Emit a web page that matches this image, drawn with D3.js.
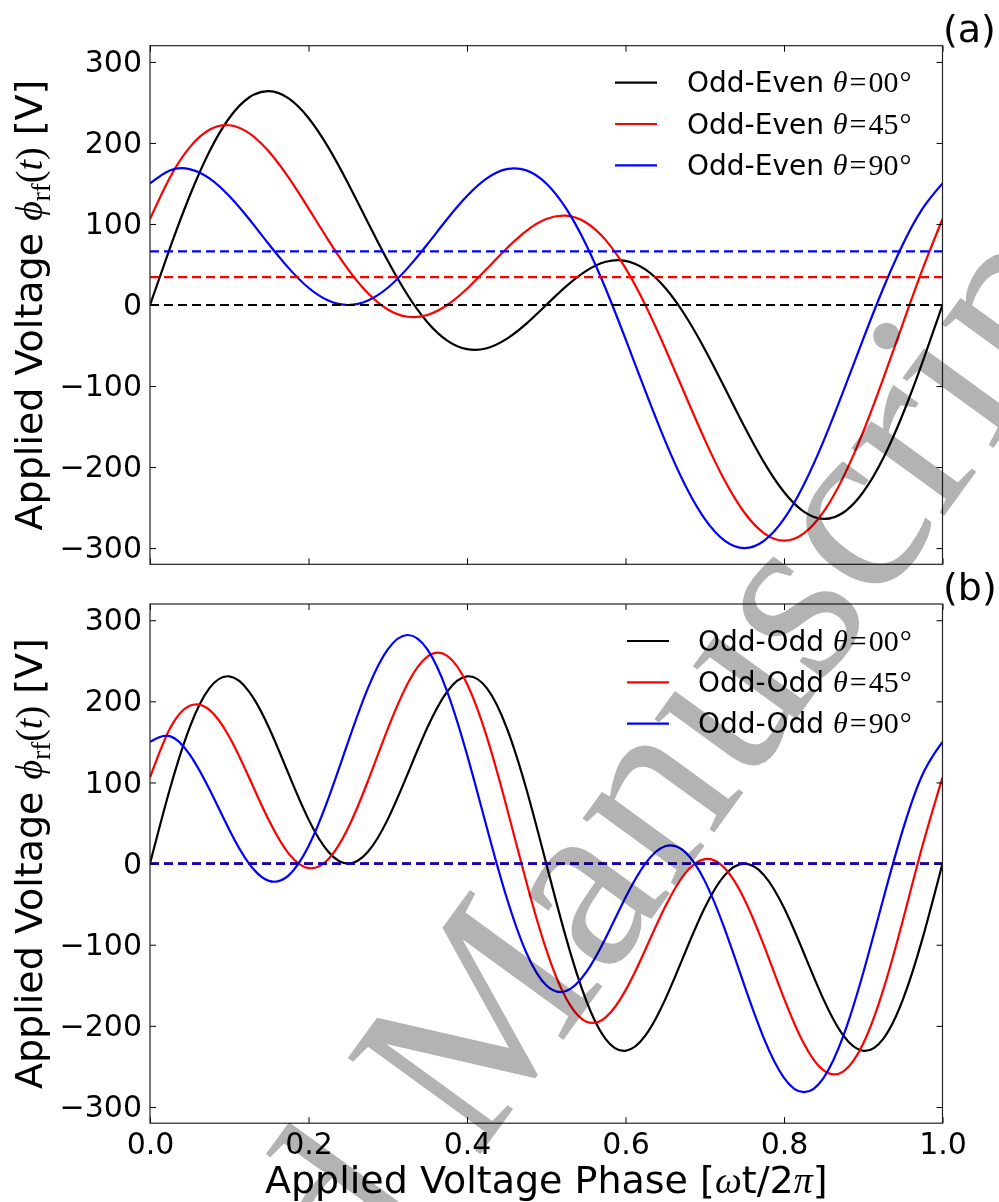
<!DOCTYPE html>
<html>
<head>
<meta charset="utf-8">
<script src="https://cdn.jsdelivr.net/npm/d3@7"></script>
<style>
  html, body { margin: 0; padding: 0; background: #ffffff; }
  svg { display: block; }
</style>
</head>
<body>
<svg id="chart" width="999" height="1202"></svg>
<script>
// ---------------- data ----------------
const phase = [0,0.025,0.05,0.075,0.1,0.125,0.15,0.175,0.2,0.225,0.25,0.275,0.3,0.325,0.35,0.375,0.4,0.425,0.45,0.475,0.5,0.525,0.55,0.575,0.6,0.625,0.65,0.675,0.7,0.725,0.75,0.775,0.8,0.825,0.85,0.875,0.9,0.925,0.95,0.975,1];

const oddEven00 = [0,69.8,134.5,189.5,230.8,256.1,264.0,255.0,230.8,194.5,150,101.8,54.5,12.3,-21.3,-43.9,-54.5,-53.3,-41.8,-22.9,0,22.9,41.8,53.3,54.5,43.9,21.3,-12.3,-54.5,-101.8,-150,-194.5,-230.8,-255.0,-264.0,-256.1,-230.8,-189.5,-134.5,-69.8,0];
const oddEven45 = [106.1,157.1,194.5,216.3,221.8,212.1,189.5,157.1,119.2,80.1,43.9,14.5,-5.5,-14.5,-12.3,0,20.1,44.6,69.8,91.6,106.1,110.2,101.8,80.1,45.5,0,-53.3,-110.2,-166.1,-216.3,-256.1,-281.8,-290.8,-281.8,-255.0,-212.1,-156.3,-91.6,-22.9,44.6,106.1];
const oddEven90 = [150,166.1,167.7,156.3,134.5,106.1,75,45.5,21.3,5.5,0,5.5,21.3,45.5,75,106.1,134.5,156.3,167.7,166.1,150,119.2,75,20.1,-41.8,-106.1,-167.7,-221.8,-264.0,-290.8,-300,-290.8,-264.0,-221.8,-167.7,-106.1,-41.8,20.1,75,119.2,150];

const oddOdd00 = [0,91.6,167.7,216.3,230.8,212.1,167.7,110.2,54.5,14.5,0,14.5,54.5,110.2,167.7,212.1,230.8,216.3,167.7,91.6,0,-91.6,-167.7,-216.3,-230.8,-212.1,-167.7,-110.2,-54.5,-14.5,0,-14.5,-54.5,-110.2,-167.7,-212.1,-230.8,-216.3,-167.7,-91.6,0];
const oddOdd45 = [106.1,166.1,194.5,189.5,156.3,106.1,53.3,12.3,-5.5,5.5,43.9,101.8,166.1,221.8,255.0,256.1,221.8,156.3,69.8,-22.9,-106.1,-166.1,-194.5,-189.5,-156.3,-106.1,-53.3,-12.3,5.5,-5.5,-43.9,-101.8,-166.1,-221.8,-255.0,-256.1,-221.8,-156.3,-69.8,22.9,106.1];
const oddOdd90 = [150,157.1,134.5,91.6,41.8,0,-21.3,-14.5,21.3,80.1,150,216.3,264.0,281.8,264.0,212.1,134.5,44.6,-41.8,-110.2,-150,-157.1,-134.5,-91.6,-41.8,0,21.3,14.5,-21.3,-80.1,-150,-216.3,-264.0,-281.8,-264.0,-212.1,-134.5,-44.6,41.8,110.2,150];

const biasOddEven = [0, 34.5, 66.1];   // dashed reference lines, panel (a)
const biasOddOdd  = [0, 0, 0];         // dashed reference lines, panel (b)

const thetaLabels = ["00", "45", "90"];
const seriesColors = ["#000000", "#ff0000", "#0000ff"];
const yTicks = [-300, -200, -100, 0, 100, 200, 300];
const xTicks = [0, 0.2, 0.4, 0.6, 0.8, 1.0];
const xTickLabels = ["0.0", "0.2", "0.4", "0.6", "0.8", "1.0"];
const yDomain = [-320, 320];
const xDomain = [0, 1];

// ---------------- drawing ----------------
const svg = d3.select("#chart");
const SANS = "DejaVu Sans";
const SERIF = "Liberation Serif, DejaVu Serif, serif";

const x = d3.scaleLinear().domain(xDomain).range([150, 942.5]);

const panels = [
  { top: 45.7, bottom: 564.3, series: [oddEven00, oddEven45, oddEven90], bias: biasOddEven,
    name: "Odd-Even", tag: "(a)", tagY: 42, legX: 615, legTextX: 687, legY: 82.7, showX: false },
  { top: 604, bottom: 1123.2, series: [oddOdd00, oddOdd45, oddOdd90], bias: biasOddOdd,
    name: "Odd-Odd", tag: "(b)", tagY: 600, legX: 627, legTextX: 698, legY: 641, showX: true }
];

panels.forEach((p, pi) => {
  const y = d3.scaleLinear().domain(yDomain).range([p.bottom, p.top]);
  const g = svg.append("g");

  const clipId = "clip" + pi;
  svg.append("clipPath").attr("id", clipId).append("rect")
    .attr("x", x.range()[0]).attr("y", p.top)
    .attr("width", x.range()[1] - x.range()[0]).attr("height", p.bottom - p.top);

  const plot = g.append("g").attr("clip-path", `url(#${clipId})`);
  const line = d3.line().x((d, i) => x(phase[i])).y(d => y(d)).curve(d3.curveNatural);

  p.series.forEach((s, si) => {
    plot.append("path").datum(s)
      .attr("d", line)
      .attr("fill", "none")
      .attr("stroke", seriesColors[si])
      .attr("stroke-width", 2.2)
      .attr("stroke-linejoin", "round");
  });
  [1, 0, 2].forEach(si => {
    plot.append("line")
      .attr("x1", x(xDomain[0])).attr("x2", x(xDomain[1]))
      .attr("y1", y(p.bias[si])).attr("y2", y(p.bias[si]))
      .attr("stroke", seriesColors[si])
      .attr("stroke-width", 2.2)
      .attr("stroke-dasharray", "9,5");
  });

  // axes (ticks inward on all four sides)
  const left = d3.axisLeft(y).tickValues(yTicks).tickSizeInner(-6).tickSizeOuter(0).tickPadding(8);
  const right = d3.axisRight(y).tickValues(yTicks).tickSizeInner(-6).tickSizeOuter(0).tickFormat("");
  const top = d3.axisTop(x).tickValues(xTicks).tickSizeInner(-6).tickSizeOuter(0).tickFormat("");
  const bottom = d3.axisBottom(x).tickValues(xTicks).tickSizeInner(-6).tickSizeOuter(0).tickPadding(10)
    .tickFormat((d, i) => p.showX ? xTickLabels[i] : "");

  const ax = [
    g.append("g").attr("transform", `translate(${x.range()[0]},0)`).call(left),
    g.append("g").attr("transform", `translate(${x.range()[1]},0)`).call(right),
    g.append("g").attr("transform", `translate(0,${p.top})`).call(top),
    g.append("g").attr("transform", `translate(0,${p.bottom})`).call(bottom)
  ];
  ax.forEach(a => {
    a.attr("font-size", 30).attr("font-family", SANS);
    a.select(".domain").remove();
    a.selectAll(".tick line").attr("stroke", "#000").attr("stroke-width", 1);
    a.selectAll("text").attr("font-family", SANS).attr("font-size", 30).attr("fill", "#000");
  });

  // frame
  g.append("rect")
    .attr("x", x.range()[0]).attr("y", p.top)
    .attr("width", x.range()[1] - x.range()[0]).attr("height", p.bottom - p.top)
    .attr("fill", "none").attr("stroke", "#222").attr("stroke-width", 1.2);

  // y label
  const cy = (p.top + p.bottom) / 2;
  const yl = g.append("text")
    .attr("transform", `translate(41.5,${cy}) rotate(-90)`)
    .attr("text-anchor", "middle").attr("font-family", SANS).attr("font-size", 38).attr("fill", "#000");
  yl.append("tspan").text("Applied Voltage ");
  yl.append("tspan").attr("font-family", SERIF).attr("font-style", "italic").text("ϕ");
  yl.append("tspan").attr("font-family", SERIF).attr("font-size", 27).attr("dy", 8).text("rf");
  yl.append("tspan").attr("font-family", SERIF).attr("dy", -8).text("(");
  yl.append("tspan").attr("font-family", SERIF).attr("font-style", "italic").text("t");
  yl.append("tspan").attr("font-family", SERIF).text(")");
  yl.append("tspan").text(" [V]");

  // panel tag
  g.append("text").attr("x", 943).attr("y", p.tagY)
    .attr("font-family", SANS).attr("font-size", 38).attr("fill", "#000").text(p.tag);

  // legend
  thetaLabels.forEach((th, i) => {
    const ly = p.legY + i * 41.3;
    g.append("line").attr("x1", p.legX).attr("x2", p.legX + 42).attr("y1", ly).attr("y2", ly)
      .attr("stroke", seriesColors[i]).attr("stroke-width", 2.2);
    const t = g.append("text").attr("x", p.legTextX).attr("y", ly + 9.7)
      .attr("font-family", SANS).attr("font-size", 28).attr("fill", "#000");
    t.append("tspan").text(p.name + " ");
    t.append("tspan").attr("font-family", SERIF).attr("font-style", "italic").attr("font-size", 30).text("θ");
    t.append("tspan").attr("font-family", SERIF).attr("font-size", 30).attr("dx", 2).text("=");
    t.append("tspan").attr("font-family", SERIF).attr("font-size", 30).attr("dx", 2).text(th);
    t.append("tspan").attr("font-family", SERIF).attr("font-size", 30).attr("dx", 1).text("°");
  });
});

// x label
const xl = svg.append("text")
  .attr("x", (x.range()[0] + x.range()[1]) / 2).attr("y", 1193)
  .attr("text-anchor", "middle").attr("font-family", SANS).attr("font-size", 38).attr("fill", "#000");
xl.append("tspan").text("Applied Voltage Phase [");
xl.append("tspan").attr("font-family", SERIF).attr("font-style", "italic").text("ω");
xl.append("tspan").text("t/2");
xl.append("tspan").attr("font-family", SERIF).attr("font-style", "italic").text("π");
xl.append("tspan").text("]");

// watermark
const wm = svg.append("g")
  .attr("transform", "translate(476,1160) rotate(-54)")
  .style("mix-blend-mode", "multiply")
  .attr("font-family", SERIF).attr("font-size", 250).attr("fill", "#b3b3b3");
wm.append("text").attr("x", 0).attr("y", 0).text("Manuscript");
wm.append("text").attr("x", -62).attr("y", 0).attr("text-anchor", "end").text("Accepted");
</script>
</body>
</html>
